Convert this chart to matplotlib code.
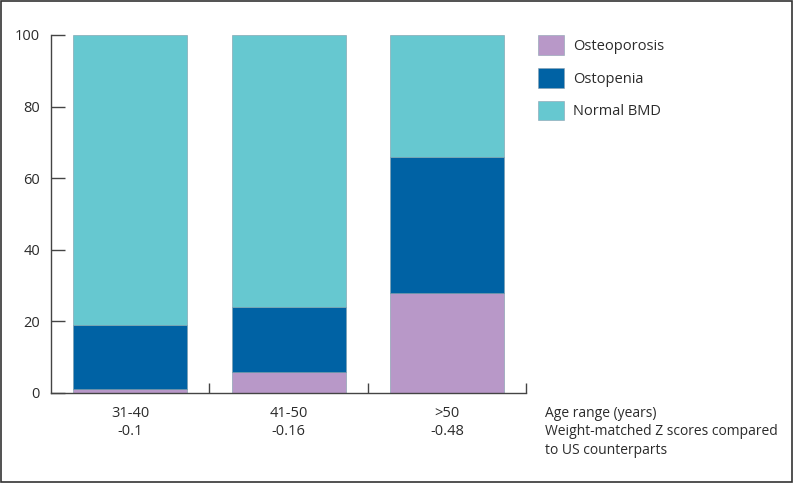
import matplotlib
matplotlib.use("Agg")
import matplotlib.pyplot as plt
from matplotlib.patches import Patch, Rectangle

categories = ["31-40", "41-50", ">50"]
zscores = ["-0.1", "-0.16", "-0.48"]
osteoporosis = [1, 6, 28]
osteopenia = [18, 18, 38]
normal_bmd = [81, 76, 34]
series_names = ["Osteoporosis", "Ostopenia", "Normal BMD"]
colors = ["#B898C8", "#0062A4", "#66C8D0"]

plt.rcParams['font.family'] = ['Open Sans', 'DejaVu Sans']
txt = "#2b2b2b"
fs = 10.5

fig = plt.figure(figsize=(7.94, 4.83), dpi=100)
ax = fig.add_axes([51/794, 1-393/483, (526-51)/794, (393-35)/483])

x = list(range(len(categories)))
w = 0.72
bottom = [0]*3
for vals, c in zip([osteoporosis, osteopenia, normal_bmd], colors):
    ax.bar(x, vals, width=w, bottom=bottom, color=c, edgecolor="#7a9aa8", linewidth=0.4)
    bottom = [b+v for b, v in zip(bottom, vals)]

ax.set_xlim(-0.5, 2.5)
ax.set_ylim(0, 100)
ax.set_yticks([0, 20, 40, 60, 80, 100])
ax.tick_params(axis='y', direction='in', length=10, width=1, colors="#444444", labelcolor=txt, labelsize=fs, pad=8)
ax.set_xticks([0.5, 1.5, 2.5])
ax.set_xticklabels([])
ax.tick_params(axis='x', direction='in', length=7, width=1, colors="#444444")
for i, (c, z) in enumerate(zip(categories, zscores)):
    ax.text(i, -3.5, c + "\n" + z, ha='center', va='top', fontsize=fs, color=txt, linespacing=1.3)
ax.text(2.62, -3.5, "Age range (years)\nWeight-matched Z scores compared\nto US counterparts",
        ha='left', va='top', fontsize=10, color=txt, linespacing=1.35, clip_on=False)

for s in ['top', 'right']:
    ax.spines[s].set_visible(False)
for s in ['left', 'bottom']:
    ax.spines[s].set_color("#444444")
    ax.spines[s].set_linewidth(1)

handles = [Patch(facecolor=c, edgecolor="#8aa0b0", linewidth=0.4) for c in colors]
fig.legend(handles, series_names, loc='upper left', bbox_to_anchor=(525/794, 1-22/483),
           frameon=False, fontsize=fs, handlelength=1.75, handleheight=1.7,
           labelspacing=0.9, handletextpad=0.65, labelcolor=txt)

fig.patches.append(Rectangle((0.0015, 0.002), 0.996, 0.995, transform=fig.transFigure,
                             fill=False, edgecolor="#333333", linewidth=1.2))

fig.savefig("out.png", dpi=100)
